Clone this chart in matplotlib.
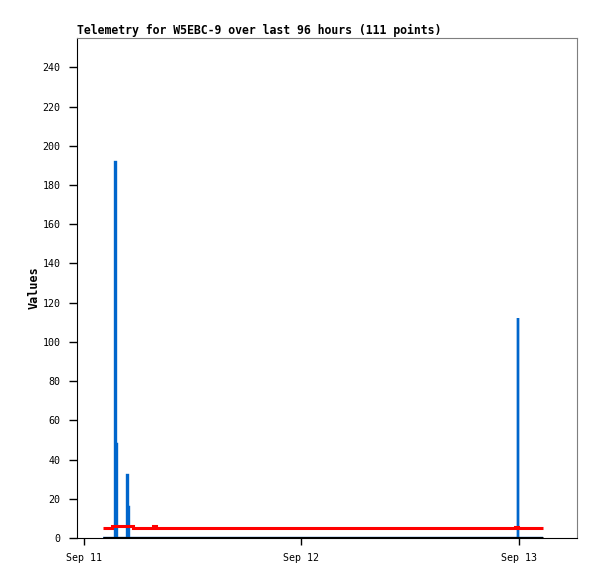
import datetime as dt

import matplotlib
matplotlib.use('Agg')
import matplotlib.pyplot as plt
import matplotlib.dates as mdates

BLUE = '#0066cc'
RED = '#ff0000'
FRAME = '#7f7f7f'

base = dt.datetime(2025, 9, 11)

# hours after Sep 11 00:00
blue_hours = [2.1, 3.45, 3.5, 3.62, 4.8, 4.85, 4.96, 47.87, 47.92, 50.6]
blue_vals = [0, 192, 48, 0, 32, 16, 0, 112, 0, 0]

red_hours = [2.1, 3.1, 5.4, 7.6, 7.9, 47.6, 47.9, 50.6]
red_vals = [5, 6, 5, 6, 5, 5.5, 5, 5]

black_hours = [2.1, 50.6]
black_vals = [0, 0]


def to_dates(hours):
    return [base + dt.timedelta(hours=h) for h in hours]


fig = plt.figure(figsize=(5.97, 5.79), dpi=100)
ax = fig.add_axes([0.129, 0.0708, 0.8375, 0.8636])

ax.plot(to_dates(blue_hours), blue_vals, color=BLUE, linewidth=1.7,
        drawstyle='steps-post', solid_capstyle='butt', solid_joinstyle='miter')
ax.plot(to_dates(red_hours), red_vals, color=RED, linewidth=2.2,
        drawstyle='steps-post', solid_capstyle='butt', solid_joinstyle='miter')
ax.plot(to_dates(black_hours), black_vals, color='black', linewidth=2.2,
        solid_capstyle='butt')

ax.set_ylim(0, 255)
ax.set_yticks(range(0, 241, 20))
ax.set_xlim(base - dt.timedelta(hours=0.77), base + dt.timedelta(hours=54.4))
ax.xaxis.set_major_locator(mdates.DayLocator())
ax.xaxis.set_major_formatter(mdates.DateFormatter('%b %d'))

mono = 'DejaVu Sans Mono'
ax.set_title('Telemetry for W5EBC-9 over last 96 hours (111 points)', loc='left',
             fontsize=8.3, fontweight='bold', family=mono, pad=3)
ax.set_ylabel('Values', fontsize=8.5, fontweight='bold', family=mono, labelpad=1)

for t in ax.get_xticklabels() + ax.get_yticklabels():
    t.set_family(mono)
    t.set_fontsize(7.2)

ax.tick_params(axis='y', length=6, width=1, pad=6)
ax.tick_params(axis='x', length=5, width=1, pad=6)

ax.spines['top'].set_color(FRAME)
ax.spines['right'].set_color(FRAME)
ax.spines['left'].set_color('black')
ax.spines['bottom'].set_color('black')

fig.savefig('out.png', dpi=100)
